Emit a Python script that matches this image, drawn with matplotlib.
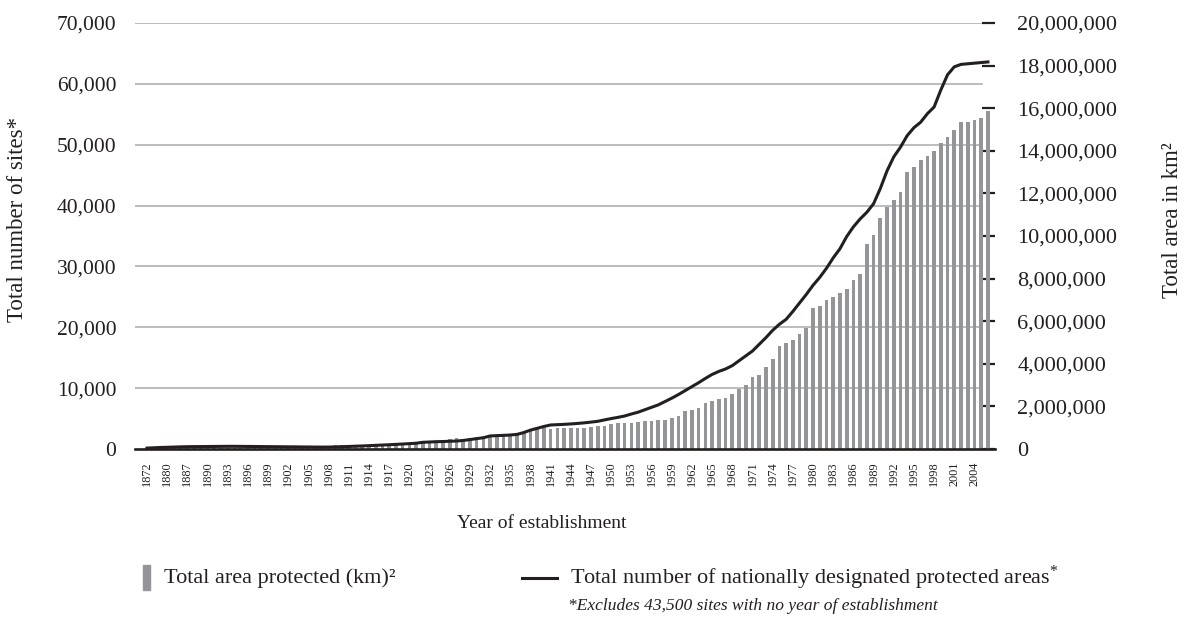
import matplotlib
matplotlib.use("Agg")
from matplotlib import pyplot as plt
from matplotlib.lines import Line2D
from matplotlib.patches import Rectangle

plt.rcParams['font.family'] = ['Liberation Serif', 'DejaVu Serif']
plt.rcParams['mathtext.fontset'] = 'custom'
plt.rcParams['mathtext.rm'] = 'Liberation Serif'
plt.rcParams['mathtext.it'] = 'Liberation Serif:italic'

# categories (year of establishment)
years = [1872, 1875, 1878, 1880, 1883, 1885] + list(range(1887, 2007))

# total area protected, millions of km2
area_m = [
    0.02, 0.02, 0.02, 0.03, 0.03, 0.03,
    0.03, 0.03, 0.03, 0.04, 0.04, 0.04, 0.04, 0.04, 0.04, 0.04, 0.04,
    0.04, 0.05, 0.05, 0.05, 0.05, 0.05, 0.05, 0.06, 0.06, 0.06, 0.08,
    0.17, 0.18, 0.19, 0.19, 0.20, 0.20, 0.21, 0.22, 0.23, 0.25, 0.27, 0.29, 0.31,
    0.33, 0.34, 0.37, 0.42, 0.47, 0.50, 0.47, 0.50, 0.55, 0.58, 0.60, 0.64,
    0.69, 0.69, 0.66, 0.77, 0.86, 0.92, 0.97, 0.92, 1.00, 1.00, 1.00, 1.00,
    1.00, 1.05, 1.08, 1.10,
    1.17, 1.20, 1.23, 1.23, 1.28, 1.31, 1.31, 1.36, 1.36, 1.46, 1.54, 1.78,
    1.84, 1.92, 2.14, 2.25, 2.34, 2.39, 2.58, 2.81, 3.00, 3.38, 3.47, 3.86,
    4.22, 4.83, 4.99, 5.12, 5.40, 5.67,
    6.62, 6.71, 7.00, 7.14, 7.34, 7.51, 7.93, 8.22, 9.62, 10.05, 10.86, 11.36,
    11.69, 12.07, 13.02, 13.24, 13.57, 13.76, 13.99, 14.37, 14.65, 14.98,
    15.35, 15.35, 15.45, 15.54, 15.87,
]
area = [a * 1e6 for a in area_m]

# total number of nationally designated sites
sites = [
    150, 200, 250, 280, 320, 350,
    380, 390, 400, 410, 420, 430, 440, 440, 430, 420, 410, 400, 390, 380,
    370, 360, 350, 340, 330, 320, 310, 320,
    350, 380, 420, 460, 500, 550, 600, 650, 700, 760, 820, 880, 950,
    1100, 1150, 1200, 1230, 1270, 1310, 1400, 1550, 1700, 1850, 2140, 2200,
    2240, 2300, 2400, 2700, 3100, 3400, 3700, 3950, 4000, 4050, 4120, 4200,
    4300, 4420, 4550, 4780,
    5000, 5200, 5420, 5750, 6050, 6450, 6850, 7250, 7800, 8350, 8950, 9600,
    10250, 10900, 11600, 12250, 12750, 13150, 13700, 14500, 15300, 16100,
    17200, 18300, 19500, 20500, 21300, 22600, 24000, 25400,
    26900, 28200, 29700, 31400, 32900, 34900, 36500, 37800, 38900, 40300,
    42800, 45700, 48000, 49600, 51500, 52800, 53700, 55100, 56200, 59000,
    61500, 62800, 63200, 63300, 63400, 63500, 63600,
]

left_ticks = [0, 10000, 20000, 30000, 40000, 50000, 60000, 70000]
right_ticks = [0, 2e6, 4e6, 6e6, 8e6, 10e6, 12e6, 14e6, 16e6, 18e6, 20e6]

txt = '#231f20'
bar_c = '#939598'
grid_c = '#a7a9ac'

fig = plt.figure(figsize=(11.88, 6.19), dpi=100)
ax = fig.add_axes([135 / 1188, 170 / 619, 860 / 1188, 426 / 619])
ax2 = ax.twinx()

x = list(range(len(years)))

# bars on the right axis, gridlines from the left axis ticks underneath
for t in left_ticks[1:]:
    ax2.axhline(t * 20e6 / 70000, xmin=0, xmax=847 / 860, color=grid_c, lw=1.1, zorder=0)
ax2.bar(x, area, width=0.55, color=bar_c, zorder=2)
ax2.set_ylim(0, 20e6)
ax2.set_yticks(right_ticks)
ax2.set_yticklabels(['{:,}'.format(int(v)) for v in right_ticks])
ax2.tick_params(axis='y', direction='in', length=9.5, width=1.6, color=txt,
                labelsize=16, labelcolor=txt, pad=16)

# line on the left axis, drawn above the bars
ax.set_zorder(ax2.get_zorder() + 1)
ax.patch.set_visible(False)
ax.plot(x, sites, color=txt, lw=2.2, zorder=3, solid_joinstyle='round')
ax.set_ylim(0, 70000)
ax.set_xlim(-1.78, len(years) + 0.05)
ax.set_yticks(left_ticks)
ax.set_yticklabels(['{:,}'.format(v) for v in left_ticks])
ax.tick_params(axis='y', length=0, labelsize=15.5, labelcolor=txt, pad=13.5)

ax.set_xticks(x[::3])
ax.set_xticklabels([str(y) for y in years[::3]], rotation=90)
ax.tick_params(axis='x', length=0, labelsize=8.8, labelcolor=txt, pad=9)

for a in (ax, ax2):
    for s in ('top', 'left', 'right'):
        a.spines[s].set_visible(False)
ax2.spines['bottom'].set_visible(False)
ax.spines['bottom'].set_linewidth(1.9)
ax.spines['bottom'].set_color(txt)

fig.text(18 / 1188, 1 - 219 / 619, 'Total number of sites*', rotation=90,
         ha='center', va='center', fontsize=16.5, color=txt)
fig.text(1172 / 1188, 1 - 220 / 619, 'Total area in km\u00b2', rotation=90,
         ha='center', va='center', fontsize=16.5, color=txt)
fig.text(542 / 1188, 1 - 524 / 619, 'Year of establishment', ha='center',
         va='center', fontsize=14, color=txt)

# legend
fig.patches.append(Rectangle((143 / 1188, 1 - 590 / 619), 7 / 1188, 25 / 619,
                             transform=fig.transFigure, color=bar_c))
fig.text(164 / 1188, 1 - 578 / 619, 'Total area protected (km)\u00b2',
         ha='left', va='center', fontsize=16, color=txt)
fig.lines.append(Line2D([522 / 1188, 557 / 1188], [1 - 578 / 619, 1 - 578 / 619],
                        transform=fig.transFigure, color=txt, lw=2.2))
fig.text(570 / 1188, 1 - 578 / 619,
         'Total number of nationally designated protected areas$^{*}$',
         ha='left', va='center', fontsize=16, color=txt)
fig.text(568 / 1188, 1 - 606 / 619,
         '*Excludes 43,500 sites with no year of establishment',
         ha='left', va='center', fontsize=12.5, style='italic', color=txt)

fig.savefig('out.png', dpi=100)
